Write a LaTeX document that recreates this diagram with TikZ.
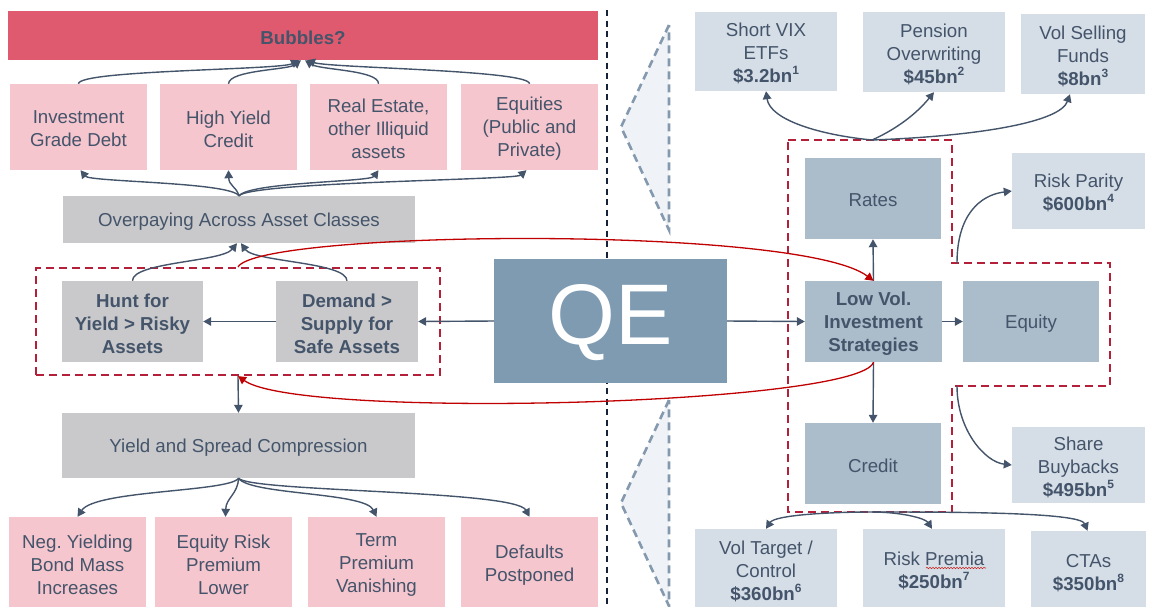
\documentclass[tikz,border=0pt]{standalone}
\usepackage{fontspec}
\setmainfont{Liberation Sans}
\usetikzlibrary{arrows.meta,decorations.pathmorphing}
\definecolor{txt}{HTML}{44546A}
\definecolor{arrc}{HTML}{44546A}
\definecolor{bubc}{HTML}{E05A6F}
\definecolor{pinkc}{HTML}{F6C6CE}
\definecolor{grayc}{HTML}{C9C9CB}
\definecolor{qec}{HTML}{7F9BB2}
\definecolor{lightc}{HTML}{D5DEE7}
\definecolor{midc}{HTML}{ABBCCB}
\definecolor{reddash}{HTML}{B4203A}
\definecolor{redc}{HTML}{C00000}
\definecolor{chevline}{HTML}{8499AE}
\definecolor{chevfill}{HTML}{EFF3F7}
\definecolor{divc}{HTML}{16213A}
\frenchspacing
\newcommand\fs{\fontsize{18.7}{23}\selectfont}
\newcommand\sups[1]{\raisebox{0.42em}{\fontsize{12}{12}\selectfont #1}}
% box node (named #1) and its text node (named #1-t), text lowered slightly
\newcommand\mkbox[7]{%
  \node[#6, minimum width={(#4)-(#2)}, minimum height={(#5)-(#3)}] (#1) at ({((#2)+(#4))/2},{((#3)+(#5))/2}) {};
  \node[#6, fill=none, yshift=-2pt] (#1-t) at (#1.center) {#7};}
\tikzset{
  bx/.style={inner sep=0pt, align=center, font=\fs, text=txt},
  pinkbox/.style={bx, fill=pinkc},
  graybox/.style={bx, fill=grayc},
  lightbox/.style={bx, fill=lightc},
  midbox/.style={bx, fill=midc},
  arr/.style={draw=arrc, line width=1.4pt, -{Triangle[width=8.5pt,length=8pt]}},
  redarr/.style={draw=redc, line width=1.3pt, -{Triangle[width=8.5pt,length=8pt]}},
  rdash/.style={draw=reddash, line width=2.2pt, dash pattern=on 8pt off 5pt},
  chev/.style={draw=chevline, fill=chevfill, line width=2.6pt, dash pattern=on 8pt off 5pt},
  divline/.style={draw=divc, line width=2.2pt, dash pattern=on 6pt off 4.5pt},
}
\begin{document}
\begin{tikzpicture}[x=1pt,y=-1pt]
\useasboundingbox (0,0) rectangle (1156,606);
% divider and chevrons
\draw[divline] (607,10) -- (607,606);
\draw[chev] (669,25) -- (621,127) -- (669,230) -- cycle;
\draw[chev] (669,400) -- (621,503) -- (669,606) -- cycle;
% left side
\mkbox{bub}{8}{11}{598}{60}{bx, fill=bubc, font=\fs\bfseries}{Bubbles?}
\mkbox{ig}{10}{84}{147}{170}{pinkbox}{Investment\\Grade Debt}
\mkbox{hy}{160}{84}{297}{170}{pinkbox}{High Yield\\Credit}
\mkbox{re}{310}{84}{447}{170}{pinkbox}{Real Estate,\\other Illiquid\\assets}
\mkbox{eq}{461}{84}{598}{170}{pinkbox}{Equities\\(Public and\\Private)}
\mkbox{op}{63}{196}{415}{243}{graybox}{Overpaying Across Asset Classes}
\mkbox{hunt}{62}{281}{203}{362}{graybox, font=\fs\bfseries}{Hunt for\\Yield > Risky\\Assets}
\mkbox{dem}{276}{281}{418}{362}{graybox, font=\fs\bfseries}{Demand >\\Supply for\\Safe Assets}
\node[rdash, minimum width=404, minimum height=107, inner sep=0pt] (hbox) at (238,321.5) {};
\mkbox{qe}{494}{259}{727}{383}{bx, fill=qec, text=white, font=\fontsize{86}{86}\selectfont}{QE}
\mkbox{ysc}{62}{413}{415}{478}{graybox}{Yield and Spread Compression}
\mkbox{neg}{9}{517}{146}{609}{pinkbox}{Neg. Yielding\\Bond Mass\\Increases}
\mkbox{erp}{155}{517}{292}{609}{pinkbox}{Equity Risk\\Premium\\Lower}
\mkbox{term}{308}{517}{445}{609}{pinkbox}{Term\\Premium\\Vanishing}
\mkbox{dfp}{461}{517}{598}{609}{pinkbox}{Defaults\\Postponed}
% right side
\mkbox{vix}{695}{12}{837}{91}{lightbox}{Short VIX\\ETFs\\\textbf{\$3.2bn\sups{1}}}
\mkbox{pens}{863}{12}{1005}{92}{lightbox}{Pension\\Overwriting\\\textbf{\$45bn\sups{2}}}
\mkbox{vsf}{1021}{14}{1145}{94}{lightbox}{Vol Selling\\Funds\\\textbf{\$8bn\sups{3}}}
\mkbox{rates}{805}{158}{941}{239}{midbox}{Rates}
\mkbox{lowvol}{805}{281}{942}{362}{midbox, font=\fs\bfseries}{Low Vol.\\Investment\\Strategies}
\mkbox{equity}{963}{281}{1099}{362}{midbox}{Equity}
\mkbox{credit}{805}{423}{941}{504}{midbox}{Credit}
\mkbox{rp}{1012}{153}{1145}{229}{lightbox}{Risk Parity\\\textbf{\$600bn\sups{4}}}
\mkbox{sb}{1012}{427}{1145}{503}{lightbox}{Share\\Buybacks\\\textbf{\$495bn\sups{5}}}
\mkbox{vt}{695}{529}{837}{610}{lightbox}{Vol Target /\\Control\\\textbf{\$360bn\sups{6}}}
\mkbox{rpm}{863}{529}{1005}{609}{lightbox}{Risk Premia\\\textbf{\$250bn\sups{7}}}
\mkbox{cta}{1031}{531}{1146}{611}{lightbox}{CTAs\\\textbf{\$350bn\sups{8}}}
\draw[redc!85, line width=0.6pt, decorate, decoration={snake, amplitude=0.7pt, segment length=3pt}] (926,568) -- (986,568);
% right dashed region
\draw[rdash] (788,140) -- (952,140) -- (952,263) -- (1110,263) -- (1110,386) -- (952,386) -- (952,512) -- (788,512) -- cycle;
\coordinate (rdT) at (872,140);
\coordinate (rdB) at (872,512);
\coordinate (rdR1) at (957,263);
\coordinate (rdR2) at (957,386);
% left arrows
\draw[arr] (ig.north) .. controls (78,70) and (280,70) .. ([xshift=-4pt]bub.south);
\draw[arr] (hy.north) .. controls (229,70) and (288,70) .. ([xshift=-2pt]bub.south);
\draw[arr] (re.north) .. controls (379,70) and (320,70) .. ([xshift=2pt]bub.south);
\draw[arr] (eq.north) .. controls (530,70) and (330,68) .. ([xshift=4pt]bub.south);
\draw[arr] (op.north) .. controls (230,182) and (90,182) .. ([xshift=2pt]ig.south);
\draw[arr] (op.north) .. controls (236,186) and (229,186) .. (hy.south);
\draw[arr] (op.north) .. controls (250,182) and (370,182) .. (re.south);
\draw[arr] (op.north) .. controls (250,182) and (515,180) .. ([xshift=-3pt]eq.south);
\draw[arr] (hunt.north) .. controls (132,262) and (222,262) .. ([xshift=-2pt]op.south);
\draw[arr] (dem.north) .. controls (347,262) and (254,262) .. ([xshift=2pt]op.south);
\draw[arr] (qe.west) -- (dem.east);
\draw[arr] (dem.west) -- (hunt.east);
\draw[arr] (hbox.south) -- (ysc.north);
\draw[arr] (ysc.south) .. controls (230,492) and (95,490) .. (neg.north);
\draw[arr] (ysc.south) .. controls (238,494) and (226,498) .. ([xshift=2pt]erp.north);
\draw[arr] (ysc.south) .. controls (250,495) and (365,492) .. (term.north);
\draw[arr] (ysc.south) .. controls (250,492) and (515,490) .. (dfp.north);
% right arrows
\draw[arr] (qe.east) -- (lowvol.west);
\draw[arr] (lowvol.east) -- (equity.west);
\draw[arr] (lowvol.north) -- (rates.south);
\draw[arr] (lowvol.south) -- (credit.north);
\draw[arr] (rdT) .. controls (820,135) and (770,120) .. (vix.south);
\draw[arr] (rdT) .. controls (890,132) and (913,118) .. (pens.south);
\draw[arr] (rdT) .. controls (980,136) and (1060,122) .. ([xshift=-13pt]vsf.south);
\draw[arr] (rdR1) .. controls (957,215) and (980,195) .. (rp.west);
\draw[arr] (rdR2) .. controls (957,430) and (985,462) .. (sb.west);
\draw[arr] (rdB) .. controls (830,512) and (775,515) .. (vt.north);
\draw[arr] (rdB) .. controls (900,512) and (925,518) .. ([xshift=-2pt]rpm.north);
\draw[arr] (rdB) .. controls (950,512) and (1080,512) .. ([xshift=-1pt]cta.north);
% red loop
\draw[redarr] (hbox.north) .. controls (260,230) and (800,225) .. (lowvol.north);
\draw[redarr] (lowvol.south) .. controls (860,405) and (300,420) .. (hbox.south);
\end{tikzpicture}
\end{document}
